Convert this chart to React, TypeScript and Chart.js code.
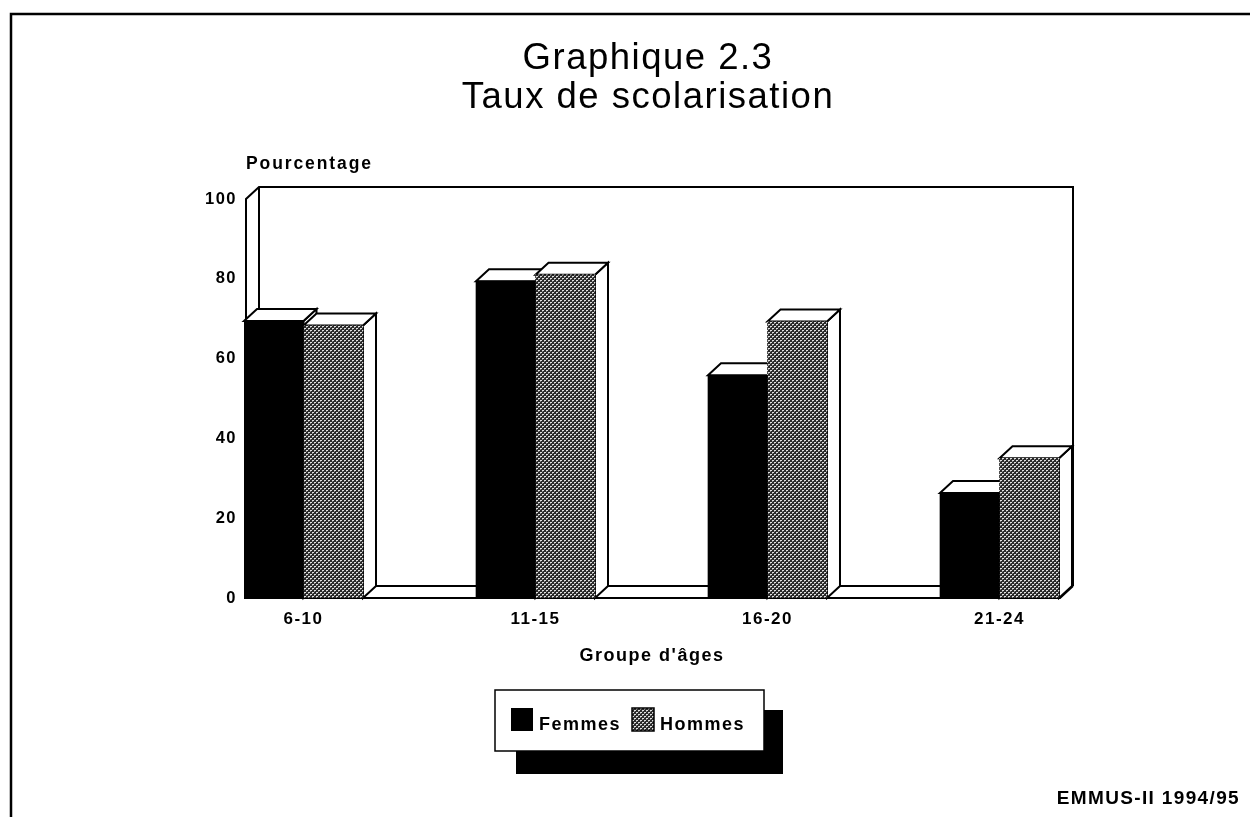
import React, { useEffect, useRef } from "react";
import { Chart, registerables } from "chart.js";

Chart.register(...registerables);

const titleLines = ["Graphique 2.3", "Taux de scolarisation"];
const categories = ["6-10", "11-15", "16-20", "21-24"];
const femmes = [69.4, 79.4, 55.8, 26.3];
const hommes = [68.3, 81, 69.3, 35];
const yTicks = [0, 20, 40, 60, 80, 100];
const yLabel = "Pourcentage";
const xLabel = "Groupe d'âges";
const source = "EMMUS-II 1994/95";
const FONT = "'Liberation Sans', Arial, sans-serif";
const DX = 13;
const DY = 12;

function makePattern(): CanvasPattern {
  const c = document.createElement("canvas");
  c.width = 4;
  c.height = 4;
  const g = c.getContext("2d")!;
  g.fillStyle = "#2a2a2a";
  g.fillRect(0, 0, 4, 4);
  g.fillStyle = "#e0e0e0";
  g.fillRect(0, 0, 2, 1);
  g.fillRect(2, 2, 2, 1);
  g.fillStyle = "#888";
  g.fillRect(0, 1, 1, 1);
  g.fillRect(2, 3, 1, 1);
  return g.createPattern(c, "repeat")!;
}

function poly(ctx: CanvasRenderingContext2D, pts: number[][], fill?: string) {
  ctx.beginPath();
  pts.forEach((p, i) => (i ? ctx.lineTo(p[0], p[1]) : ctx.moveTo(p[0], p[1])));
  if (fill) {
    ctx.closePath();
    ctx.fillStyle = fill;
    ctx.fill();
  }
  ctx.stroke();
}

const frame3d = {
  id: "frame3d",
  afterLayout(chart: any) {
    // the title is centred a little left of the page centre
    chart.titleBlock.left = 46;
    chart.titleBlock.right = 1250;
  },
  beforeDraw(chart: any) {
    chart.ctx.letterSpacing = "1.5px";
  },
  beforeDatasetsDraw(chart: any) {
    const { ctx, chartArea: a } = chart;
    ctx.save();
    ctx.strokeStyle = "#000";
    ctx.lineWidth = 2;
    // back wall, left wall and floor of the 3D box
    const wl = a.left + 2;
    poly(ctx, [[wl, a.bottom], [wl, a.top], [wl + DX, a.top - DY], [a.right + DX, a.top - DY], [a.right + DX, a.bottom - DY]]);
    poly(ctx, [[wl + DX, a.top - DY], [wl + DX, a.bottom - DY], [a.right + DX, a.bottom - DY]]);
    poly(ctx, [[a.left, a.bottom], [a.right, a.bottom], [a.right + DX, a.bottom - DY]]);
    // side and top faces of each bar
    chart.data.datasets.forEach((_: any, di: number) => {
      chart.getDatasetMeta(di).data.forEach((b: any) => {
        const l = b.x - b.width / 2;
        const r = b.x + b.width / 2;
        poly(ctx, [[r, b.y], [r + DX, b.y - DY], [r + DX, a.bottom - DY], [r, a.bottom]], "#fff");
        poly(ctx, [[l, b.y], [l + DX, b.y - DY], [r + DX, b.y - DY], [r, b.y]], "#fff");
      });
    });
    ctx.restore();
  },
  afterDraw(chart: any) {
    const { ctx, chartArea: a } = chart;
    ctx.save();
    ctx.strokeStyle = "#000";
    ctx.fillStyle = "#000";
    // page frame
    ctx.lineWidth = 2.5;
    ctx.beginPath();
    ctx.moveTo(11, 817);
    ctx.lineTo(11, 14);
    ctx.lineTo(1250, 14);
    ctx.stroke();
    // text
    ctx.font = `bold 17.5px ${FONT}`;
    ctx.textBaseline = "alphabetic";
    ctx.letterSpacing = "1.9px";
    ctx.textAlign = "left";
    ctx.fillText(yLabel, a.left + 2, 169);
    ctx.letterSpacing = "1.35px";
    ctx.textAlign = "right";
    ctx.font = `bold 19px ${FONT}`;
    ctx.fillText(source, 1240, 804);
    // legend
    const ds = chart.data.datasets;
    ctx.fillRect(516, 710, 267, 64);
    ctx.fillStyle = "#fff";
    ctx.fillRect(495, 690, 269, 61);
    ctx.lineWidth = 1.5;
    ctx.strokeRect(495, 690, 269, 61);
    ctx.fillStyle = ds[0].backgroundColor;
    ctx.fillRect(511, 708, 22, 23);
    ctx.fillStyle = ds[1].backgroundColor;
    ctx.fillRect(632, 708, 22, 23);
    ctx.strokeRect(632, 708, 22, 23);
    ctx.fillStyle = "#000";
    ctx.textAlign = "left";
    ctx.letterSpacing = "1.5px";
    ctx.font = `bold 18px ${FONT}`;
    ctx.fillText(ds[0].label, 539, 730);
    ctx.fillText(ds[1].label, 660, 730);
    ctx.restore();
  },
};

export default function App() {
  const ref = useRef<HTMLCanvasElement>(null);
  useEffect(() => {
    const chart = new Chart(ref.current!, {
      type: "bar",
      data: {
        datasets: [
          {
            label: "Femmes",
            data: femmes.map((y, x) => ({ x, y })),
            backgroundColor: "#000",
            barThickness: 59.5,
          },
          {
            label: "Hommes",
            data: hommes.map((y, x) => ({ x, y })),
            backgroundColor: makePattern() as any,
            barThickness: 59.5,
          },
        ],
      },
      options: {
        animation: false,
        responsive: false,
        events: [],
        layout: { padding: { left: 244 - 60, right: 190, top: 0, bottom: 817 - 598 - 80 } },
        plugins: {
          legend: { display: false },
          tooltip: { enabled: false },
          title: {
            display: true,
            text: titleLines,
            color: "#000",
            font: { family: FONT, size: 36.5, weight: "normal", lineHeight: 1.08 },
            padding: { top: 39, bottom: 199 - 39 - 78.84 },
          },
        },
        scales: {
          x: {
            type: "linear",
            offset: false,
            min: -0.2565,
            max: 3.2608,
            afterBuildTicks: (s: any) => {
              s.ticks = categories.map((_, i) => ({ value: i }));
            },
            afterFit: (s: any) => {
              s.height = 80;
            },
            grid: { display: false, drawTicks: false },
            border: { display: false },
            ticks: {
              callback: (v: any) => categories[v],
              color: "#000",
              font: { family: FONT, size: 17, weight: "bold" },
              padding: 11,
              maxRotation: 0,
              autoSkip: false,
            },
            title: {
              display: true,
              text: xLabel,
              color: "#000",
              font: { family: FONT, size: 18, weight: "bold" },
              padding: { top: 0, bottom: 11 },
            },
          },
          y: {
            min: 0,
            max: 100,
            afterBuildTicks: (s: any) => {
              s.ticks = yTicks.map((value) => ({ value }));
            },
            afterFit: (s: any) => {
              s.width = 60;
            },
            grid: { display: false, drawTicks: false },
            border: { display: false },
            ticks: {
              color: "#000",
              font: { family: FONT, size: 16.5, weight: "bold" },
              padding: 7,
            },
          },
        },
      },
      plugins: [frame3d],
    } as any);
    return () => chart.destroy();
  }, []);
  return (
    <div style={{ position: "absolute", left: 0, top: 0, width: 1250, height: 817, background: "#fff" }}>
      <canvas ref={ref} width={1250} height={817} style={{ display: "block" }} />
    </div>
  );
}
